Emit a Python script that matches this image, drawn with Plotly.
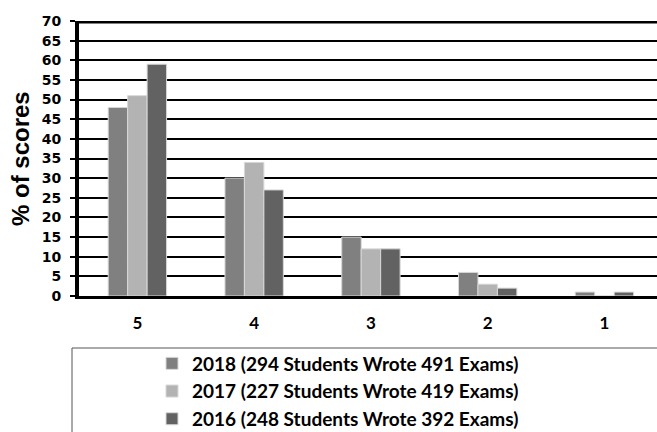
import plotly.graph_objects as go

categories = ["5", "4", "3", "2", "1"]
series_names = [
    "2018 (294 Students Wrote 491 Exams)",
    "2017 (227 Students Wrote 419 Exams)",
    "2016 (248 Students Wrote 392 Exams)",
]
values_2018 = [48, 30, 15, 6, 1]
values_2017 = [51, 34, 12, 3, 0]
values_2016 = [59, 27, 12, 2, 1]
colors = ["#808080", "#b3b3b3", "#626262"]
y_ticks = list(range(0, 75, 5))

W, H = 657, 432
L, R, T, B = 79, 0, 21, 136
plot_w = W - L - R
plot_h = H - T - B

def px_x(p):
    return (p - L) / plot_w

def px_y(p):
    return (H - B - p) / plot_h

fig = go.Figure()
for i, (name, vals) in enumerate(zip(series_names, [values_2018, values_2017, values_2016])):
    fig.add_trace(go.Bar(
        x=categories, y=vals, name=name, legendgroup=f"g{i}",
        marker=dict(color=colors[i], line=dict(color="#d8d8d8", width=1)),
    ))

fig.update_layout(
    width=W, height=H,
    margin=dict(l=L, r=R, t=T, b=B, pad=0, autoexpand=False),
    paper_bgcolor="white", plot_bgcolor="white",
    barmode="group", bargap=0.5, bargroupgap=0,
    showlegend=True,
    legend=dict(
        x=px_x(152), y=px_y(344.5), xanchor="left", yanchor="top",
        font=dict(family="Lato", size=19, color="black", weight="bold"),
        tracegroupgap=9, bgcolor="rgba(0,0,0,0)", borderwidth=0,
        traceorder="normal",
    ),
    xaxis=dict(
        range=[-0.5, 4.45], showgrid=False, showline=True, linecolor="black",
        linewidth=3, ticks="", tickfont=dict(family="Lato", size=17, color="black", weight="bold"),
        ticklabelstandoff=10, layer="below traces", fixedrange=True,
    ),
    yaxis=dict(
        range=[0, 70], tickvals=y_ticks, showgrid=True, gridcolor="black", gridwidth=1.5,
        showline=True, linecolor="black", linewidth=4, ticks="outside", ticklen=5,
        tickcolor="black", tickwidth=1.5, zeroline=False,
        tickfont=dict(family="DejaVu Sans", size=14, color="black", weight="bold"),
        ticklabelstandoff=6, layer="below traces", fixedrange=True,
    ),
    shapes=[
        dict(type="line", xref="paper", yref="y", x0=0, x1=1, y0=70, y1=70,
             line=dict(color="black", width=5)),
        dict(type="rect", xref="paper", yref="paper", x0=px_x(72), x1=px_x(700),
             y0=px_y(348), y1=px_y(470), line=dict(color="#555555", width=1)),
    ],
    annotations=[
        dict(text="% of scores", xref="paper", yref="paper", x=px_x(20), y=px_y(159),
             xanchor="center", yanchor="middle", textangle=-90, showarrow=False,
             font=dict(family="Liberation Sans", size=24, color="black", weight="bold")),
    ],
)

fig.write_html(
    "out.html",
    config={"displayModeBar": False},
    post_script="document.body.style.margin='0';document.body.style.overflow='hidden';",
)
